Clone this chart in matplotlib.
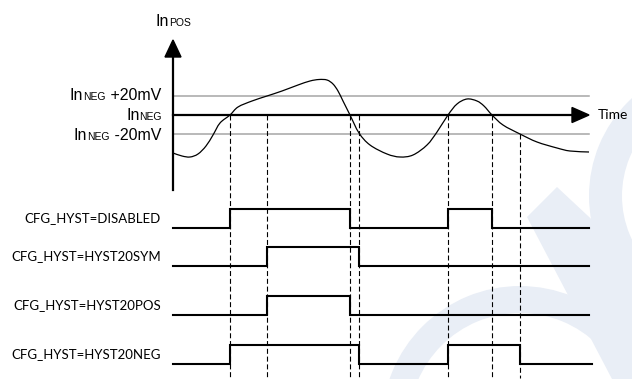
import matplotlib

matplotlib.use("Agg")
import matplotlib.pyplot as plt
import numpy as np
from matplotlib.offsetbox import AnnotationBbox, HPacker, TextArea
from matplotlib.patches import Polygon, Wedge
from matplotlib.path import Path
from matplotlib.patches import PathPatch

# --- data (diagram units: x = time, y = level, screen-like, y grows downward) ---
t_start, t_end = 173, 589
level_neg = 115          # In_NEG reference
level_hi = 96            # In_NEG + 20 mV
level_lo = 134           # In_NEG - 20 mV

# In_POS waveform
wave_t = [173, 182, 190, 198, 206, 213, 220, 230, 238, 252, 267, 282, 298, 310, 319,
          327, 333, 338, 343, 350, 359, 370, 387, 400, 413, 427, 437, 448, 457, 467, 477,
          484, 492, 503, 520, 537, 557, 570, 589]
wave_v = [153, 156, 157, 154, 146, 135, 123, 115, 107, 101, 96, 91, 85, 81, 79.5,
          80, 84, 91, 101, 115, 133, 145, 154, 157, 155, 145, 132, 115, 104, 99, 101,
          106, 115, 125, 134, 142, 148, 151, 152]

# comparator outputs: (label, toggle times, row baseline)
rows = [
    ("CFG_HYST=DISABLED", [230, 350, 448, 492], 228),
    ("CFG_HYST=HYST20SYM", [267, 359], 266),
    ("CFG_HYST=HYST20POS", [267, 350], 315),
    ("CFG_HYST=HYST20NEG", [230, 359, 448, 520], 364),
]
row_height = 19
row_end = [589, 589, 589, 592]

# dashed markers: time, level where the marker starts
marker_t = [230, 267, 350, 359, 448, 492, 520]
marker_top = [115, 115, 115, 115, 115, 115, 134]
marker_bottom = 378

label_font = ["Liberation Sans", "DejaVu Sans"]
sig_font = ["Lato", "DejaVu Sans"]

fig = plt.figure(figsize=(6.32, 3.79), dpi=100)
ax = fig.add_axes([0, 0, 1, 1])
ax.set_xlim(0, 632)
ax.set_ylim(379, 0)
ax.axis("off")

# faint logo watermark in the background
wm = "#e9eef6"
ax.add_patch(Wedge((520, 424), 138, 0, 360, width=27, color=wm, zorder=0, lw=0))
ax.add_patch(Wedge((722, 196), 133, 0, 360, width=33, color=wm, zorder=0, lw=0))
ax.add_patch(Polygon([(557, 187), (632, 257), (632, 379), (612, 379), (527, 217)],
                     closed=True, color=wm, zorder=0, lw=0))

# threshold lines
for lv in (level_hi, level_lo):
    ax.plot([t_start, t_end], [lv, lv], color="#a6a6a6", lw=1.1, zorder=2)

# axes arrows
ax.plot([t_start, t_start], [190, 55], color="black", lw=1.6, zorder=4)
ax.add_patch(Polygon([(t_start, 40), (t_start - 8, 57), (t_start + 8, 57)],
                     closed=True, color="black", zorder=4))
ax.plot([t_start, 574], [level_neg, level_neg], color="black", lw=1.6, zorder=4)
ax.add_patch(Polygon([(589, level_neg), (572, level_neg - 7.5), (572, level_neg + 7.5)],
                     closed=True, color="black", zorder=4))
ax.text(598, level_neg, "Time", ha="left", va="center", fontsize=10,
        family=sig_font)

# smooth waveform (Catmull-Rom through the read points)
pts = np.column_stack([wave_t, wave_v]).astype(float)
verts = [pts[0]]
codes = [Path.MOVETO]
for i in range(len(pts) - 1):
    p0 = pts[max(i - 1, 0)]
    p1 = pts[i]
    p2 = pts[i + 1]
    p3 = pts[min(i + 2, len(pts) - 1)]
    verts += [p1 + (p2 - p0) / 6, p2 - (p3 - p1) / 6, p2]
    codes += [Path.CURVE4] * 3
ax.add_patch(PathPatch(Path(verts, codes), fill=False, color="black", lw=0.9, zorder=3))

# dashed markers
for t, top in zip(marker_t, marker_top):
    ax.plot([t, t], [top, marker_bottom], color="black", lw=0.8,
            ls=(0, (4.5, 2.5)), zorder=2)

# digital outputs
for (label, toggles, base), xe in zip(rows, row_end):
    xs = [t_start]
    ys = [base]
    state = 0
    for tt in toggles:
        y_now = base - row_height * state
        state = 1 - state
        xs += [tt, tt]
        ys += [y_now, base - row_height * state]
    xs.append(xe)
    ys.append(base - row_height * state)
    ax.plot(xs, ys, color="black", lw=1.5, zorder=4, solid_joinstyle="miter")
    ax.text(161, base - row_height / 2, label, ha="right", va="center",
            fontsize=9.5, family=sig_font)


def sub_label(parts, xy, align):
    boxes = [TextArea(s, textprops=dict(size=sz, family=label_font)) for s, sz in parts]
    pack = HPacker(children=boxes, align="baseline", pad=0, sep=0)
    ab = AnnotationBbox(pack, xy, xycoords="data", box_alignment=align,
                        frameon=False, pad=0)
    ax.add_artist(ab)


sub_label([("In", 11.5), ("NEG", 7.5), (" +20mV", 11.5)], (161, level_hi), (1, 0.5))
sub_label([("In", 11.5), ("NEG", 7.5)], (162, level_neg + 1), (1, 0.5))
sub_label([("In", 11.5), ("NEG", 7.5), (" -20mV", 11.5)], (161, level_lo + 1), (1, 0.5))
sub_label([("In", 11.5), ("POS", 7.5)], (173, 22), (0.5, 0.5))

fig.savefig("out.png", dpi=100)
